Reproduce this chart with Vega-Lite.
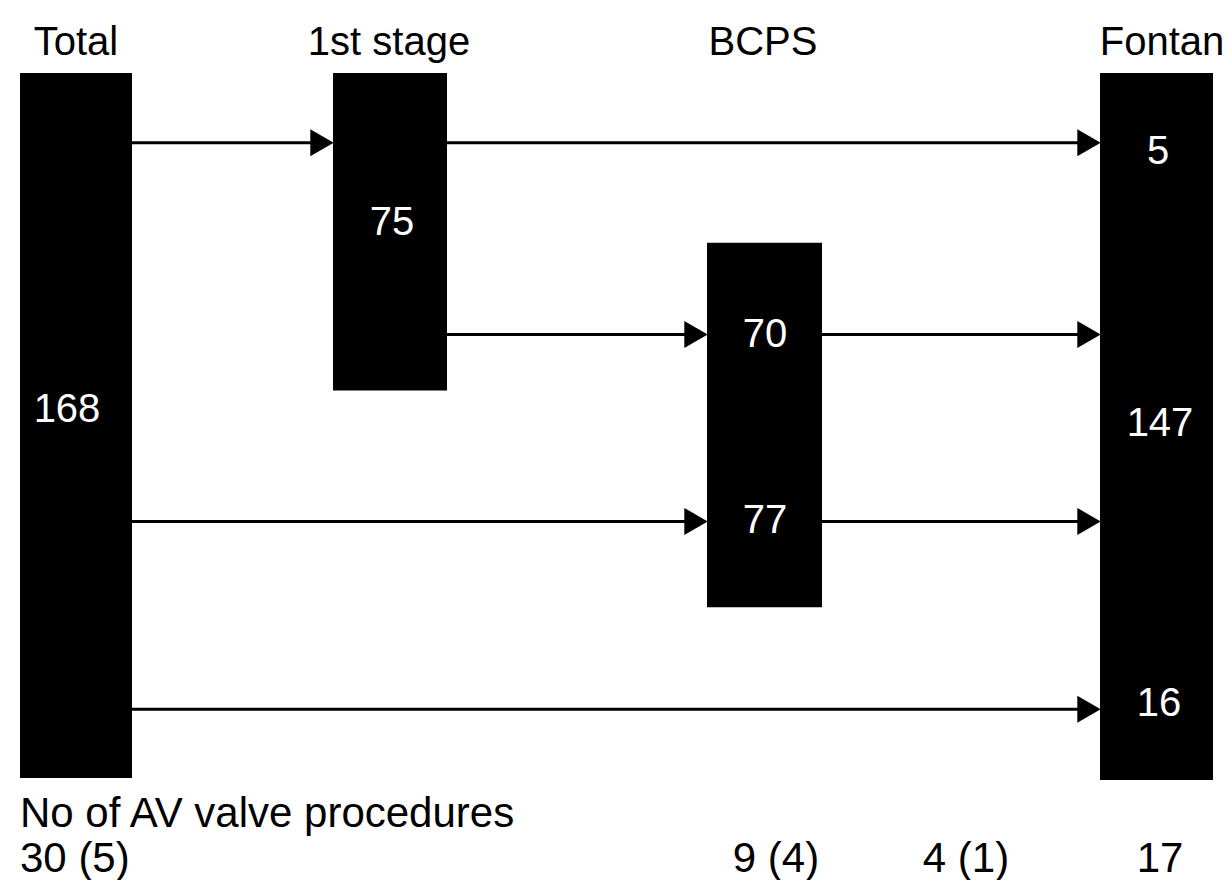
{
  "$schema": "https://vega.github.io/schema/vega-lite/v6.json",
  "width": 1230,
  "height": 880,
  "autosize": {"type": "fit", "contains": "padding"},
  "padding": 0,
  "background": "white",
  "config": {"view": {"stroke": null}},
  "datasets": {
    "boxes": [
      {"stage": "Total", "x0": 20, "x1": 132, "y0": 73, "y1": 779},
      {"stage": "1st stage", "x0": 333, "x1": 447, "y0": 73, "y1": 391},
      {"stage": "BCPS", "x0": 707, "x1": 822, "y0": 243, "y1": 608},
      {"stage": "Fontan", "x0": 1100, "x1": 1213, "y0": 73, "y1": 781}
    ],
    "arrows": [
      {"x0": 132, "x1": 322, "y": 143},
      {"x0": 447, "x1": 1088, "y": 143},
      {"x0": 447, "x1": 696, "y": 335},
      {"x0": 822, "x1": 1088, "y": 335},
      {"x0": 132, "x1": 696, "y": 522},
      {"x0": 822, "x1": 1088, "y": 522},
      {"x0": 132, "x1": 1088, "y": 710}
    ],
    "heads": [
      {"x": 322, "y": 143},
      {"x": 696, "y": 335},
      {"x": 696, "y": 522},
      {"x": 1089, "y": 143},
      {"x": 1089, "y": 335},
      {"x": 1089, "y": 522},
      {"x": 1089, "y": 710}
    ],
    "headers": [
      {"label": "Total", "x": 76, "y": 55},
      {"label": "1st stage", "x": 389, "y": 55},
      {"label": "BCPS", "x": 763, "y": 55},
      {"label": "Fontan", "x": 1162, "y": 55}
    ],
    "counts": [
      {"label": "168", "x": 67, "y": 410},
      {"label": "75", "x": 392, "y": 223},
      {"label": "70", "x": 765, "y": 335},
      {"label": "77", "x": 765, "y": 522},
      {"label": "5", "x": 1158, "y": 152},
      {"label": "147", "x": 1160, "y": 424},
      {"label": "16", "x": 1159, "y": 705}
    ],
    "footLeft": [
      {"label": "No of AV valve procedures", "x": 20, "y": 828},
      {"label": "30 (5)", "x": 20, "y": 873}
    ],
    "footCenter": [
      {"label": "9 (4)", "x": 776, "y": 873},
      {"label": "4 (1)", "x": 966, "y": 873},
      {"label": "17", "x": 1160, "y": 873}
    ]
  },
  "layer": [
    {
      "data": {"name": "boxes"},
      "mark": {"type": "rect", "color": "black"},
      "encoding": {
        "x": {"field": "x0", "type": "quantitative", "scale": {"domain": [0, 1230], "nice": false, "zero": false}, "axis": null},
        "x2": {"field": "x1"},
        "y": {"field": "y0", "type": "quantitative", "scale": {"domain": [0, 880], "reverse": true, "nice": false, "zero": false}, "axis": null},
        "y2": {"field": "y1"}
      }
    },
    {
      "data": {"name": "arrows"},
      "mark": {"type": "rule", "color": "black", "strokeWidth": 3},
      "encoding": {
        "x": {"field": "x0", "type": "quantitative"},
        "x2": {"field": "x1"},
        "y": {"field": "y", "type": "quantitative"}
      }
    },
    {
      "data": {"name": "heads"},
      "mark": {"type": "point", "shape": "triangle-right", "filled": true, "color": "black", "opacity": 1, "size": 729, "strokeWidth": 0},
      "encoding": {
        "x": {"field": "x", "type": "quantitative"},
        "y": {"field": "y", "type": "quantitative"}
      }
    },
    {
      "data": {"name": "headers"},
      "mark": {"type": "text", "font": "Liberation Sans", "fontSize": 40, "align": "center", "baseline": "alphabetic", "color": "black"},
      "encoding": {
        "x": {"field": "x", "type": "quantitative"},
        "y": {"field": "y", "type": "quantitative"},
        "text": {"field": "label"}
      }
    },
    {
      "data": {"name": "counts"},
      "mark": {"type": "text", "font": "Liberation Sans", "fontSize": 40, "align": "center", "baseline": "middle", "color": "white"},
      "encoding": {
        "x": {"field": "x", "type": "quantitative"},
        "y": {"field": "y", "type": "quantitative"},
        "text": {"field": "label"}
      }
    },
    {
      "data": {"name": "footLeft"},
      "mark": {"type": "text", "font": "Liberation Sans", "fontSize": 42, "align": "left", "baseline": "alphabetic", "color": "black"},
      "encoding": {
        "x": {"field": "x", "type": "quantitative"},
        "y": {"field": "y", "type": "quantitative"},
        "text": {"field": "label"}
      }
    },
    {
      "data": {"name": "footCenter"},
      "mark": {"type": "text", "font": "Liberation Sans", "fontSize": 42, "align": "center", "baseline": "alphabetic", "color": "black"},
      "encoding": {
        "x": {"field": "x", "type": "quantitative"},
        "y": {"field": "y", "type": "quantitative"},
        "text": {"field": "label"}
      }
    }
  ]
}
